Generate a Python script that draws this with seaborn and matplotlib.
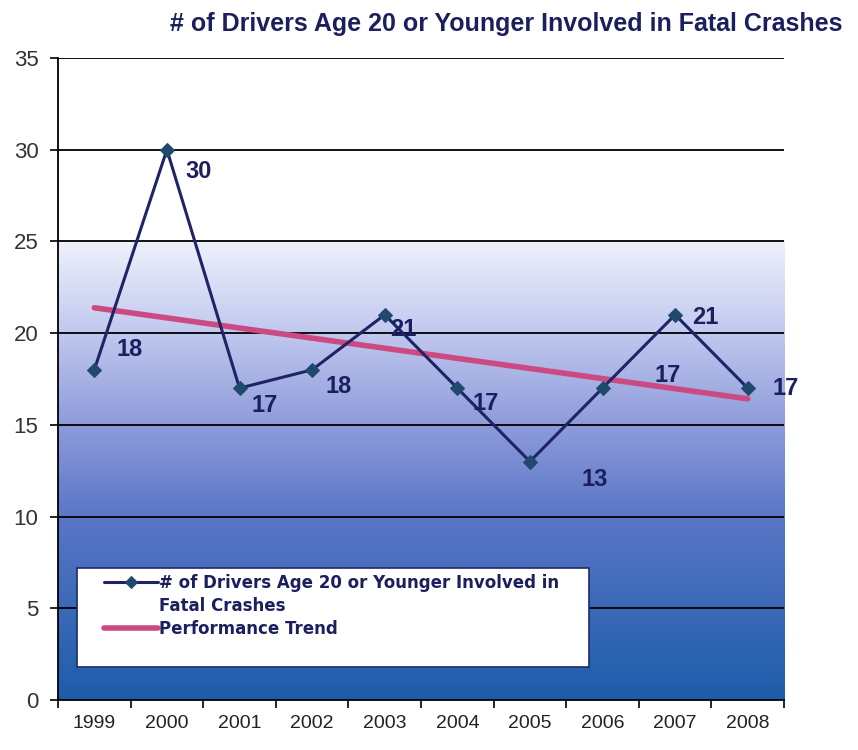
import numpy as np
import pandas as pd
import matplotlib
matplotlib.use("Agg")
import matplotlib.pyplot as plt
from matplotlib.colors import LinearSegmentedColormap
from matplotlib.patches import Rectangle
from matplotlib.legend_handler import HandlerLine2D
import seaborn as sns

# Data
years = [1999, 2000, 2001, 2002, 2003, 2004, 2005, 2006, 2007, 2008]
drivers = [18, 30, 17, 18, 21, 17, 13, 17, 21, 17]
series_label = "# of Drivers Age 20 or Younger Involved in\nFatal Crashes"
trend_label = "Performance Trend"
title = "# of Drivers Age 20 or Younger Involved in Fatal Crashes"

# label offsets (pixels) for the value labels
label_offsets = [(35, 20), (32, -22), (25, -17), (27, -17), (19, -15),
                 (28, -15), (65, -18), (65, 13), (30, -3), (38, 0)]

df = pd.DataFrame({"Year": years, "Drivers": drivers})

sns.set_theme(style="white")
plt.rcParams["font.family"] = ["Liberation Sans", "DejaVu Sans"]


class FirstLineHandler(HandlerLine2D):
    # put the handle next to the first line of a two-line label
    def create_artists(self, legend, orig_handle, xdescent, ydescent,
                       width, height, fontsize, trans):
        arts = super().create_artists(legend, orig_handle, xdescent, ydescent,
                                      width, height, fontsize, trans)
        for a in arts:
            a.set_ydata(np.asarray(a.get_ydata()) + 10)
        return arts


navy = "#1c1f5e"
fig = plt.figure(figsize=(8.58, 7.5), dpi=100)
ax = fig.add_axes([0.0676, 0.0667, 0.8462, 0.856])

# gradient background: white above 25, blue gradient below
cmap = LinearSegmentedColormap.from_list(
    "bg", [(0, "#1c5daa"), (0.4, "#5a76c6"), (0.6, "#8e9bda"),
           (0.8, "#c0c8ef"), (1, "#eef1fb")])
grad = np.linspace(0, 1, 256).reshape(-1, 1)
ax.imshow(grad, extent=[1998.5, 2008.5, 0, 25], origin="lower",
          aspect="auto", cmap=cmap, zorder=0)

# horizontal gridlines
for yv in range(5, 36, 5):
    ax.axhline(yv, color="black", lw=1.3, zorder=1)

# trend line (least squares fit)
sns.regplot(data=df, x="Year", y="Drivers", scatter=False, ci=None,
            ax=ax, color="#cc4a82", line_kws={"lw": 4, "zorder": 2},
            truncate=True, label=trend_label)

sns.lineplot(data=df, x="Year", y="Drivers", ax=ax, color="#1f2466",
             lw=2.2, marker="D", markersize=7.5, markerfacecolor="#1f4a6e",
             markeredgecolor="#1f4a6e", zorder=3, label=series_label)

for x, y, (dx, dy) in zip(years, drivers, label_offsets):
    ax.annotate(str(y), (x, y), xytext=(dx, dy), textcoords="offset pixels",
                ha="center", va="center", fontsize=17, fontweight="bold",
                color=navy, zorder=4)

ax.set_xlim(1998.5, 2008.5)
ax.set_ylim(0, 35)
ax.set_yticks(range(0, 36, 5))
ax.set_xticks(years)
ax.set_xticks(np.arange(1998.5, 2009, 1), minor=True)
ax.set_xlabel("")
ax.set_ylabel("")
ax.tick_params(axis="x", which="major", length=0, pad=11, labelsize=14,
               labelcolor="#222222")
ax.tick_params(axis="x", which="minor", length=6, width=1.2, color="black",
               direction="out", bottom=True)
ax.tick_params(axis="y", length=6, width=1.2, color="black", direction="out",
               left=True, labelsize=16, labelcolor="#333333", pad=8)

for s in ["top", "right"]:
    ax.spines[s].set_visible(False)
for s in ["left", "bottom"]:
    ax.spines[s].set_color("black")
    ax.spines[s].set_linewidth(1.3)

# legend box drawn as a patch, legend itself without frame
ax.add_patch(Rectangle((0.026, 0.051), 0.706, 0.154, transform=ax.transAxes,
                       facecolor="white", edgecolor="#1c2a6a", lw=1.2,
                       zorder=5))
handles, labels = ax.get_legend_handles_labels()
order = [labels.index(series_label), labels.index(trend_label)]
series_handle = handles[order[0]]
leg = ax.legend([handles[i] for i in order], [labels[i] for i in order],
                loc="upper left", bbox_to_anchor=(0.064, 0.196),
                frameon=False, handlelength=3.2,
                handletextpad=0.1, borderpad=0, labelspacing=0.3,
                borderaxespad=0, markerscale=0.85,
                handler_map={series_handle: FirstLineHandler()},
                prop={"family": "DejaVu Sans", "weight": "bold", "size": 12})
leg.set_zorder(6)
for t in leg.get_texts():
    t.set_color(navy)
    t.set_linespacing(1.35)

fig.text(0.59, 0.968, title, ha="center", va="center", fontsize=18,
         fontweight="bold", color=navy)

fig.savefig("out.png", dpi=100)
